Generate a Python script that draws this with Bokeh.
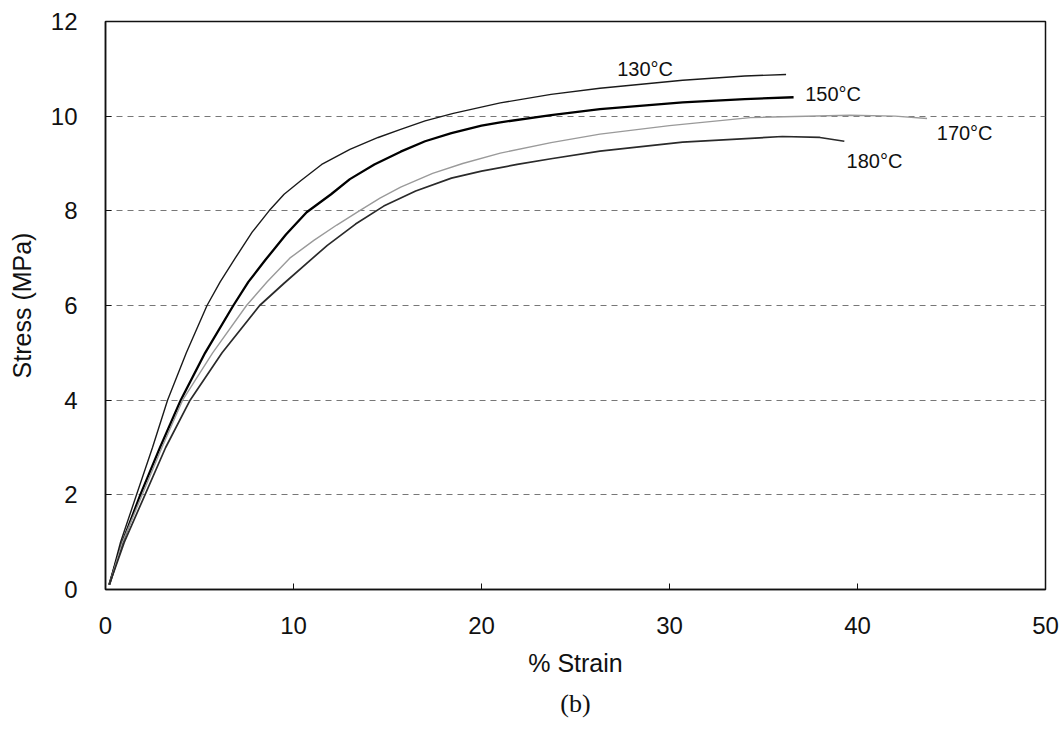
from bokeh.plotting import figure
from bokeh.models import ColumnDataSource, FixedTicker, Range1d, Title
from bokeh.core.properties import value
from bokeh.embed import file_html
from bokeh.resources import INLINE

# ---- data ----
strain_130 = [0.2, 0.8, 1.65, 2.5, 3.3, 4.3, 5.4, 6.1, 6.9, 7.8, 8.7, 9.5, 10.4, 11.5, 13.0, 14.5, 15.7, 17.0, 18.5, 21.0, 23.7, 26.3, 30.7, 34.0, 36.2]
stress_130 = [0.1, 1.0, 2.0, 3.0, 4.0, 5.0, 6.0, 6.5, 7.0, 7.55, 8.0, 8.35, 8.64, 8.98, 9.3, 9.55, 9.72, 9.9, 10.06, 10.28, 10.46, 10.59, 10.76, 10.85, 10.88]

strain_150 = [0.2, 0.9, 1.85, 2.9, 4.0, 5.3, 6.8, 7.6, 8.5, 9.6, 10.7, 12.0, 13.0, 14.3, 15.7, 17.0, 18.4, 20.0, 21.0, 23.7, 26.3, 30.7, 34.0, 36.6]
stress_150 = [0.1, 1.0, 2.0, 3.0, 4.0, 5.0, 6.0, 6.5, 6.96, 7.5, 7.97, 8.35, 8.67, 8.98, 9.25, 9.47, 9.64, 9.8, 9.87, 10.02, 10.15, 10.29, 10.36, 10.40]

strain_170 = [0.2, 0.9, 1.95, 3.0, 4.1, 5.7, 7.5, 8.6, 9.8, 11.1, 12.3, 13.5, 14.6, 15.7, 17.4, 19.0, 21.0, 23.7, 26.3, 30.0, 34.3, 39.6, 42.0, 43.7]
stress_170 = [0.1, 1.0, 2.0, 3.0, 4.0, 5.0, 6.0, 6.5, 7.0, 7.38, 7.7, 8.0, 8.27, 8.5, 8.79, 9.0, 9.22, 9.44, 9.62, 9.8, 9.97, 10.02, 10.0, 9.95]

strain_180 = [0.2, 1.0, 2.1, 3.2, 4.5, 6.2, 8.2, 9.5, 10.9, 11.8, 13.3, 14.8, 16.5, 18.4, 20.0, 21.9, 23.7, 26.3, 30.7, 36.0, 38.0, 39.3]
stress_180 = [0.1, 1.0, 2.0, 3.0, 4.0, 5.0, 6.0, 6.47, 6.96, 7.27, 7.72, 8.1, 8.42, 8.69, 8.84, 8.98, 9.10, 9.26, 9.45, 9.57, 9.55, 9.47]

series_names = ["130°C", "150°C", "170°C", "180°C"]
label_x = [28.7, 38.7, 45.7, 40.9]
label_y = [11.0, 10.46, 9.64, 9.05]

x_ticks = [0, 10, 20, 30, 40, 50]
y_ticks = [0, 2, 4, 6, 8, 10, 12]

FONT = "Liberation Sans"

p = figure(width=1064, height=730, output_backend="svg", toolbar_location=None,
           x_range=Range1d(0, 50), y_range=Range1d(0, 12),
           min_border_left=105, min_border_right=19, min_border_top=21, min_border_bottom=141)
p.background_fill_color = "white"
p.border_fill_color = "white"
p.outline_line_color = "#111111"
p.outline_line_width = 1.5

p.xaxis.ticker = FixedTicker(ticks=x_ticks)
p.yaxis.ticker = FixedTicker(ticks=y_ticks)
for ax in (p.xaxis, p.yaxis):
    ax.axis_line_color = "#111111"
    ax.axis_line_width = 1.5
    ax.major_tick_in = 6
    ax.major_tick_out = 0
    ax.minor_tick_line_color = None
    ax.major_tick_line_color = "#111111"
    ax.major_label_text_font = FONT
    ax.major_label_text_font_size = "24px"
    ax.major_label_text_color = "#111111"
    ax.axis_label_text_font = FONT
    ax.axis_label_text_font_size = "25px"
    ax.axis_label_text_font_style = "normal"
    ax.axis_label_text_color = "#111111"

p.xaxis.axis_label = "% Strain"
p.yaxis.axis_label = "Stress (MPa)"
p.xaxis.major_label_standoff = 27
p.xaxis.axis_label_standoff = 12
p.yaxis.major_label_standoff = 28
p.yaxis.axis_label_standoff = 12

p.xgrid.grid_line_color = None
p.ygrid.grid_line_color = "#777777"
p.ygrid.grid_line_dash = "6 5"
p.ygrid.grid_line_width = 1

p.line(strain_130, stress_130, line_color="#1a1a1a", line_width=1.4)
p.line(strain_150, stress_150, line_color="#000000", line_width=2.3)
p.line(strain_170, stress_170, line_color="#9a9a9a", line_width=1.4)
p.line(strain_180, stress_180, line_color="#2a2a2a", line_width=1.7)

src = ColumnDataSource(dict(x=label_x, y=label_y, t=series_names))
p.text(x="x", y="y", text="t", source=src, text_font=value(FONT), text_font_size="20px",
       text_align="center", text_baseline="middle", text_color="#111111")

cap = Title(text="(b)", align="center", text_font="Liberation Serif", text_font_size="26px",
            text_font_style="normal", text_color="#111111", offset=-18, standoff=14)
p.add_layout(cap, "below")

open("out.html", "w").write(file_html(p, INLINE))
